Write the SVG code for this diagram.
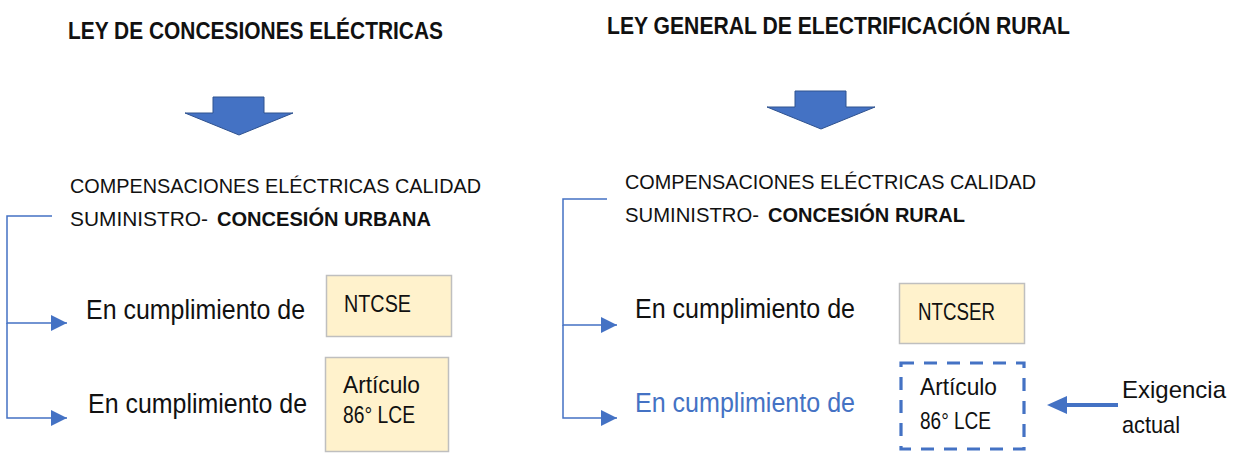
<svg xmlns="http://www.w3.org/2000/svg" width="1234" height="454" viewBox="0 0 1234 454">
<defs>
<style>
text{font-family:"Liberation Sans",Arial,sans-serif;fill:#111}
.title{font-size:23px;font-weight:bold}
.sub{font-size:21px}
.b{font-weight:bold}
.en{font-size:27px}
.note{font-size:24px}
.bx{font-size:24px}
.blue{fill:#4472C4}
.box{fill:#FFF2CC;stroke:#BFBFBF;stroke-width:1.5}
.dash{fill:none;stroke:#4472C4;stroke-width:3.2;stroke-dasharray:13 10}
.big{fill:#4472C4;stroke:#2F528F;stroke-width:1}
.con{fill:none;stroke:#4472C4;stroke-width:1.5}
</style>
<marker id="ah" viewBox="0 0 16 16" refX="16" refY="8" markerWidth="16" markerHeight="16" markerUnits="userSpaceOnUse" orient="auto">
<path d="M0,0 L16,8 L0,16 Z" fill="#4472C4"/>
</marker>
</defs>
<rect width="1234" height="454" fill="#fff"/>

<g id="title-left"><text class="title" x="68" y="39" textLength="375" lengthAdjust="spacingAndGlyphs">LEY DE CONCESIONES ELÉCTRICAS</text></g>
<g id="title-right"><text class="title" x="607" y="34" textLength="463" lengthAdjust="spacingAndGlyphs">LEY GENERAL DE ELECTRIFICACIÓN RURAL</text></g>

<g id="arrow-left"><path class="big" d="M213,97 H264 V113 H293 L239,135 L185,113 H213 Z"/></g>
<g id="arrow-right"><path class="big" d="M795,91 H846 V107 H875 L821,129 L767,107 H795 Z"/></g>

<g id="comp-left">
<text class="sub" x="70" y="193" textLength="411" lengthAdjust="spacingAndGlyphs">COMPENSACIONES ELÉCTRICAS CALIDAD</text>
<text class="sub" x="70" y="226" textLength="138" lengthAdjust="spacingAndGlyphs">SUMINISTRO-</text>
<text class="sub b" x="217" y="226" textLength="214" lengthAdjust="spacingAndGlyphs">CONCESIÓN URBANA</text>
</g>
<g id="comp-right">
<text class="sub" x="625" y="189" textLength="411" lengthAdjust="spacingAndGlyphs">COMPENSACIONES ELÉCTRICAS CALIDAD</text>
<text class="sub" x="625" y="222" textLength="134" lengthAdjust="spacingAndGlyphs">SUMINISTRO-</text>
<text class="sub b" x="768" y="222" textLength="197" lengthAdjust="spacingAndGlyphs">CONCESIÓN RURAL</text>
</g>

<g id="connectors">
<path class="con" d="M52,216 H7 V323 H67" marker-end="url(#ah)"/>
<path class="con" d="M7,323 V418 H67" marker-end="url(#ah)"/>
<path class="con" d="M607,199 H563 V325 H617" marker-end="url(#ah)"/>
<path class="con" d="M563,325 V418 H617" marker-end="url(#ah)"/>
<line x1="1118" y1="405" x2="1062" y2="405" stroke="#4472C4" stroke-width="4"/>
<path d="M1047,405 L1067,396 L1067,414 Z" fill="#4472C4"/>
</g>

<g id="label-left-1"><text class="en" x="86" y="319" textLength="219" lengthAdjust="spacingAndGlyphs">En cumplimiento de</text></g>
<g id="label-left-2"><text class="en" x="88" y="413" textLength="219" lengthAdjust="spacingAndGlyphs">En cumplimiento de</text></g>
<g id="label-right-1"><text class="en" x="635" y="318" textLength="220" lengthAdjust="spacingAndGlyphs">En cumplimiento de</text></g>
<g id="label-right-2"><text class="en blue" x="635" y="412" textLength="220" lengthAdjust="spacingAndGlyphs">En cumplimiento de</text></g>

<g id="box-ntcse">
<rect class="box" x="326.5" y="275.5" width="125" height="61"/>
<text class="bx" x="344" y="312" textLength="67" lengthAdjust="spacingAndGlyphs">NTCSE</text>
</g>
<g id="box-art-left">
<rect class="box" x="325.5" y="357.5" width="123" height="94"/>
<text class="bx" x="343" y="393" textLength="77" lengthAdjust="spacingAndGlyphs">Artículo</text>
<text class="bx" x="343" y="423" textLength="72" lengthAdjust="spacingAndGlyphs">86° LCE</text>
</g>
<g id="box-ntcser">
<rect class="box" x="899.5" y="283.5" width="125" height="60"/>
<text class="bx" x="918" y="320" textLength="77" lengthAdjust="spacingAndGlyphs">NTCSER</text>
</g>
<g id="box-art-right">
<rect class="dash" x="901" y="363" width="123" height="86"/>
<text class="bx" x="920" y="395" textLength="77" lengthAdjust="spacingAndGlyphs">Artículo</text>
<text class="bx" x="920" y="429" textLength="71" lengthAdjust="spacingAndGlyphs">86° LCE</text>
</g>
<g id="note">
<text class="note" x="1122" y="398" textLength="104" lengthAdjust="spacingAndGlyphs">Exigencia</text>
<text class="note" x="1122" y="433" textLength="58" lengthAdjust="spacingAndGlyphs">actual</text>
</g>
</svg>
